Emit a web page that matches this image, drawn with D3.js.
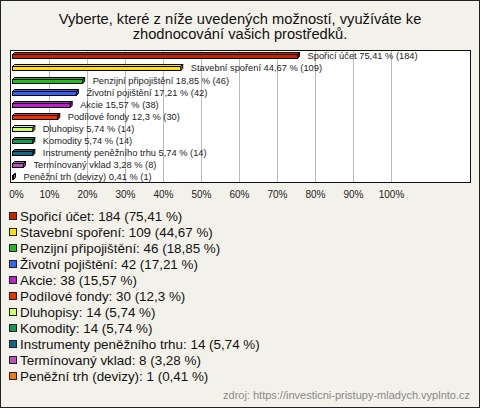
<!DOCTYPE html>
<html><head><meta charset="utf-8">
<script src="https://cdn.jsdelivr.net/npm/d3@7"></script>
<style>body{margin:0;background:#fff}svg{display:block}</style>
</head><body>
<script>
const categories = ["Spořicí účet","Stavební spoření","Penzijní připojištění","Životní pojištění","Akcie","Podílové fondy","Dluhopisy","Komodity","Instrumenty peněžního trhu","Termínovaný vklad","Peněžní trh (devizy)"];
const counts = [184,109,46,42,38,30,14,14,14,8,1];
const percents = [75.41,44.67,18.85,17.21,15.57,12.3,5.74,5.74,5.74,3.28,0.41];
const colors = ["#cc2200","#ffe000","#22bb22","#3366ee","#bb22cc","#ee3300","#ccff66","#119955","#116688","#bb55bb","#ee7711"];
const tickValues = [0,10,20,30,40,50,60,70,80,90,100];
const titleLines = ["Vyberte, které z níže uvedených možností, využíváte ke","zhodnocování vašich prostředků."];
const source = "zdroj: https://investicni-pristupy-mladych.vyplnto.cz";

const W=480,H=408;
const svg=d3.select("body").append("svg").attr("width",W).attr("height",H);
svg.append("rect").attr("x",0.5).attr("y",0.5).attr("width",W-1).attr("height",H-1).attr("fill","#f3f2ea").attr("stroke","#222");

const fmt = v => String(v).replace(".",",");

svg.selectAll("text.title").data(titleLines).join("text").attr("class","title")
  .attr("x",240).attr("y",(d,i)=>24+i*15).attr("text-anchor","middle")
  .attr("font-family","Arial, Liberation Sans, sans-serif").attr("font-size",14.7).attr("fill","#111").text(d=>d);

const x=d3.scaleLinear().domain([0,100]).range([11,391]);
const y=d3.scaleBand().domain(categories).range([50,182]).paddingInner(0.45).paddingOuter(0.2);

svg.append("rect").attr("x",10.5).attr("y",50.5).attr("width",460).attr("height",132).attr("fill","#fff").attr("stroke","#111");

svg.selectAll("line.grid").data(tickValues.slice(1)).join("line").attr("class","grid")
  .attr("x1",d=>Math.round(x(d))+0.5).attr("x2",d=>Math.round(x(d))+0.5).attr("y1",51).attr("y2",182)
  .attr("stroke","#bbb");

const ax=svg.append("g").attr("transform","translate(0,188)").call(d3.axisBottom(x).tickValues(tickValues).tickFormat(d=>d+"%").tickSize(0).tickPadding(3));
ax.select(".domain").remove();
ax.selectAll("text").attr("font-family","Arial, Liberation Sans, sans-serif").attr("font-size",10).attr("fill","#222");
ax.selectAll("text").filter(d=>d===0).attr("dx",5);

const dep=2;
const g=svg.append("g");
categories.forEach((c,i)=>{
  const y0=Math.round(y(c))+2.5, h=4, x0=12.5, x1=Math.max(x(percents[i]),x0+1);
  const col=colors[i];
  const gg=g.append("g");
  gg.append("path").attr("d",`M${x0},${y0} L${x0+dep},${y0-dep} L${x1+dep},${y0-dep} L${x1},${y0} Z`)
    .attr("fill",col).attr("stroke","#000").attr("stroke-width",1);
  gg.append("path").attr("d",`M${x1},${y0} L${x1+dep},${y0-dep} L${x1+dep},${y0-dep+h} L${x1},${y0+h} Z`)
    .attr("fill",d3.color(col).darker(0.8)).attr("stroke","#000").attr("stroke-width",1);
  gg.append("rect").attr("x",x0).attr("y",y0).attr("width",x1-x0).attr("height",h)
    .attr("fill",col).attr("stroke","#000").attr("stroke-width",1);
  svg.append("text").attr("x",x1+10).attr("y",y0+4)
    .attr("font-family","Arial, Liberation Sans, sans-serif").attr("font-size",9.3).attr("fill","#222")
    .text(`${c} ${fmt(percents[i])} % (${counts[i]})`);
});

const lg=svg.append("g");
categories.forEach((c,i)=>{
  const cy=216+i*16;
  lg.append("rect").attr("x",9.5).attr("y",cy-3.5).attr("width",7).attr("height",7).attr("fill",colors[i]).attr("stroke","#222");
  lg.append("text").attr("x",20).attr("y",cy+5).attr("font-family","Arial, Liberation Sans, sans-serif").attr("font-size",13.4).attr("fill","#111")
    .text(`${c}: ${counts[i]} (${fmt(percents[i])} %)`);
});

svg.append("text").attr("x",470).attr("y",399).attr("text-anchor","end")
  .attr("font-family","Arial, Liberation Sans, sans-serif").attr("font-size",11).attr("fill","#888").text(source);
</script>
</body></html>
